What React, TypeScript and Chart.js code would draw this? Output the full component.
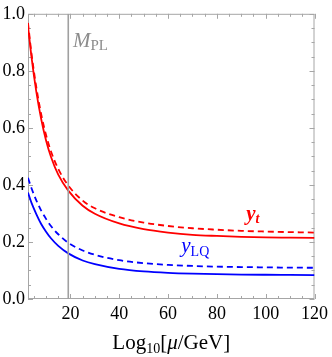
import { useEffect, useRef } from 'react';
import { Chart, registerables } from 'chart.js';

Chart.register(...registerables);

// ---- data ----
const muLog = [2.6, 4, 6, 8, 10, 12, 15, 19.1, 25, 30, 40, 50, 60, 70, 80, 90, 100, 110, 120];
const ytSolid = [0.958, 0.851, 0.727, 0.631, 0.556, 0.499, 0.436, 0.38, 0.327, 0.299, 0.265, 0.245, 0.233, 0.225, 0.221, 0.218, 0.216, 0.215, 0.214];
const ytDashed = [0.968, 0.863, 0.743, 0.648, 0.575, 0.518, 0.456, 0.398, 0.345, 0.318, 0.287, 0.268, 0.256, 0.248, 0.243, 0.239, 0.2365, 0.2345, 0.233];
const yLQSolid = [0.373, 0.338, 0.298, 0.263, 0.236, 0.213, 0.1865, 0.16, 0.135, 0.122, 0.1055, 0.0966, 0.0916, 0.0887, 0.0869, 0.0857, 0.085, 0.0845, 0.084];
const yLQDashed = [0.425, 0.389, 0.346, 0.31, 0.281, 0.256, 0.227, 0.197, 0.17, 0.155, 0.136, 0.1257, 0.1195, 0.1158, 0.1135, 0.112, 0.1109, 0.110, 0.1095];
const MPL = 19.1;
const xMin = 2.6;
const xMax = 120;
const xTicks = [20, 40, 60, 80, 100, 120];
const yTicks = [0, 0.2, 0.4, 0.6, 0.8, 1.0];
const yTickLabels = ['0.0', '0.2', '0.4', '0.6', '0.8', '1.0'];

const SERIF = '"Liberation Serif", "DejaVu Serif", serif';
const FRAME = '#a6a6a6';
const RED = '#ff0000';
const BLUE = '#0000ff';

type Part = { text: string; font: string; dy: number };

function drawParts(ctx: CanvasRenderingContext2D, x: number, y: number, parts: Part[], color: string) {
  ctx.save();
  ctx.fillStyle = color;
  ctx.textBaseline = 'alphabetic';
  ctx.textAlign = 'left';
  let cx = x;
  for (const p of parts) {
    ctx.font = p.font;
    ctx.fillText(p.text, cx, y + p.dy);
    cx += ctx.measureText(p.text).width;
  }
  ctx.restore();
}

function partsWidth(ctx: CanvasRenderingContext2D, parts: Part[]) {
  let w = 0;
  ctx.save();
  for (const p of parts) {
    ctx.font = p.font;
    w += ctx.measureText(p.text).width;
  }
  ctx.restore();
  return w;
}

const framePlugin = {
  id: 'frame',
  beforeDatasetsDraw(chart: any) {
    const { ctx, chartArea } = chart;
    const { left, right, top, bottom } = chartArea;
    const xs = chart.scales.x;
    const ys = chart.scales.y;
    ctx.save();
    ctx.strokeStyle = FRAME;
    ctx.lineWidth = 1;
    ctx.strokeRect(left + 0.5, top + 0.5, right - left - 1, bottom - top - 1);
    ctx.beginPath();
    for (let v = 5; v <= xMax; v += 5) {
      if (v < xMin) continue;
      const major = v % 20 === 0;
      const len = major ? 5 : 3;
      const px = Math.round(xs.getPixelForValue(v)) + 0.5;
      ctx.moveTo(px, bottom);
      ctx.lineTo(px, bottom - len);
      ctx.moveTo(px, top);
      ctx.lineTo(px, top + len);
    }
    for (let i = 0; i <= 20; i++) {
      const v = i * 0.05;
      const major = i % 4 === 0;
      const len = major ? 5 : 3;
      const py = Math.round(ys.getPixelForValue(v)) + 0.5;
      ctx.moveTo(left, py);
      ctx.lineTo(left + len, py);
      ctx.moveTo(right, py);
      ctx.lineTo(right - len, py);
    }
    ctx.stroke();
    ctx.restore();
  },
  afterDatasetsDraw(chart: any) {
    const { ctx, chartArea } = chart;
    const xs = chart.scales.x;
    const ys = chart.scales.y;
    // M_PL label
    drawParts(ctx, xs.getPixelForValue(21.0), ys.getPixelForValue(0.882), [
      { text: 'M', font: `italic 21px ${SERIF}`, dy: 0 },
      { text: 'PL', font: `15px ${SERIF}`, dy: 3 },
    ], '#8c8c8c');
    // y_t label
    drawParts(ctx, xs.getPixelForValue(92), ys.getPixelForValue(0.277), [
      { text: 'y', font: `italic bold 21px ${SERIF}`, dy: 0 },
      { text: 't', font: `italic bold 14px ${SERIF}`, dy: 3 },
    ], RED);
    // y_LQ label
    drawParts(ctx, xs.getPixelForValue(65.4), ys.getPixelForValue(0.164), [
      { text: 'y', font: `italic 21px ${SERIF}`, dy: 0 },
      { text: 'LQ', font: `14px ${SERIF}`, dy: 4 },
    ], BLUE);
    // x axis title
    const title: Part[] = [
      { text: 'Log', font: `21px ${SERIF}`, dy: 0 },
      { text: '10', font: `14px ${SERIF}`, dy: 4 },
      { text: '[', font: `21px ${SERIF}`, dy: 0 },
      { text: 'μ', font: `italic 21px ${SERIF}`, dy: 0 },
      { text: '/GeV]', font: `21px ${SERIF}`, dy: 0 },
    ];
    const w = partsWidth(ctx, title);
    const cx = (chartArea.left + chartArea.right) / 2;
    drawParts(ctx, cx - w / 2, 349, title, '#000');
  },
};

export default function App() {
  const ref = useRef<HTMLCanvasElement | null>(null);
  useEffect(() => {
    document.body.style.margin = '0';
    const canvas = ref.current;
    if (!canvas) return;
    const mk = (arr: number[]) => muLog.map((x, i) => ({ x, y: arr[i] }));
    const lineDs = (label: string, arr: number[], color: string, dashed: boolean) => ({
      label,
      data: mk(arr),
      borderColor: color,
      backgroundColor: color,
      borderWidth: 1.8,
      borderDash: dashed ? [6, 4] : [],
      pointRadius: 0,
      cubicInterpolationMode: 'monotone' as const,
      fill: false,
    });
    const chart = new Chart(canvas, {
      type: 'line',
      data: {
        datasets: [
          {
            label: 'MPL',
            data: [{ x: MPL, y: 0 }, { x: MPL, y: 1 }],
            borderColor: '#a0a0a0',
            borderWidth: 1.6,
            pointRadius: 0,
            fill: false,
          },
          lineDs('yt', ytSolid, RED, false),
          lineDs('yt dashed', ytDashed, RED, true),
          lineDs('yLQ', yLQSolid, BLUE, false),
          lineDs('yLQ dashed', yLQDashed, BLUE, true),
        ],
      },
      options: {
        responsive: false,
        animation: false,
        devicePixelRatio: 1,
        layout: { padding: { left: 0, right: 16, top: 12, bottom: 0 } },
        plugins: { legend: { display: false }, tooltip: { enabled: false } },
        scales: {
          x: {
            type: 'linear',
            min: xMin,
            max: xMax,
            afterBuildTicks: (s: any) => { s.ticks = xTicks.map((v) => ({ value: v })); },
            afterFit: (s: any) => { s.height = 58; },
            grid: { display: false, drawTicks: false },
            border: { display: false },
            ticks: {
              color: '#000',
              font: { family: SERIF, size: 18 },
              padding: 4,
              maxRotation: 0,
              autoSkip: false,
              callback: (v: any) => String(v),
            },
          },
          y: {
            type: 'linear',
            min: 0,
            max: 1,
            afterBuildTicks: (s: any) => { s.ticks = yTicks.map((v) => ({ value: v })); },
            afterFit: (s: any) => { s.width = 28; },
            grid: { display: false, drawTicks: false },
            border: { display: false },
            ticks: {
              color: '#000',
              font: { family: SERIF, size: 18 },
              padding: 3,
              autoSkip: false,
              callback: (v: any) => {
                const i = yTicks.findIndex((t) => Math.abs(t - v) < 1e-9);
                return i >= 0 ? yTickLabels[i] : '';
              },
            },
          },
        },
      },
      plugins: [framePlugin],
    });
    return () => chart.destroy();
  }, []);
  return (
    <div style={{ position: 'absolute', left: 0, top: 0, width: 332, height: 357, background: '#fff' }}>
      <canvas ref={ref} width={332} height={357} style={{ width: 332, height: 357, display: 'block' }} />
    </div>
  );
}
